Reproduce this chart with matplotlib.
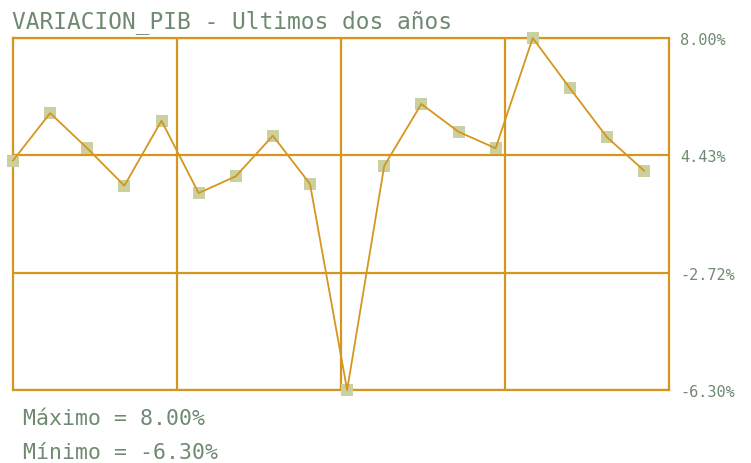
import numpy as np
import matplotlib.pyplot as plt

# variacion del PIB (%), 18 periodos
valores = [3.02, 4.95, 3.52, 2.00, 4.64, 1.70, 2.38, 4.03, 2.07, -6.30,
           2.81, 5.32, 4.19, 3.52, 8.00, 5.96, 3.97, 2.61]
etiquetas_y = ["-6.30%", "-2.72%", "4.43%", "8.00%"]
titulo = "VARIACION_PIB - Ultimos dos años"

oro = "#D4961E"
texto = "#6E8A70"
marca = "#CBD0A0"

vmax = max(valores)
vmin = min(valores)
x = np.arange(len(valores))
xmax = 17.67

fig = plt.figure(figsize=(7.51, 4.64), dpi=100)
ax = fig.add_axes([13/751, 73/464, 656/751, 352/464])
ax.patch.set_visible(False)

ax.plot(x, valores, color=oro, lw=1.3, zorder=4, clip_on=False)
ax.scatter(x, valores, marker="s", s=85, color=marca, zorder=3, linewidths=0,
           clip_on=False)

ax.set_xlim(0, xmax)
ax.set_ylim(vmin, vmax)
ax.set_xticks([xmax/4, xmax/2, 3*xmax/4])
ax.set_xticklabels([])
ax.set_yticks(np.linspace(vmin, vmax, 4))
ax.set_yticklabels(etiquetas_y)
ax.yaxis.tick_right()
ax.tick_params(length=0, pad=8, labelsize=11, labelcolor=texto)
for t in ax.get_yticklabels():
    t.set_family("DejaVu Sans Mono")
ax.grid(True, color=oro, lw=1.6, zorder=1)
ax.set_axisbelow(True)
for s in ax.spines.values():
    s.set_color(oro)
    s.set_linewidth(1.6)
    s.set_zorder(2)

fig.text(12/751, 1 - 28/464, titulo, family="DejaVu Sans Mono", fontsize=16.5,
         color=texto, va="baseline", zorder=10)
fig.text(23/751, 1 - 425/464, "Máximo = %.2f%%" % vmax, family="DejaVu Sans Mono",
         fontsize=15.5, color=texto, va="baseline")
fig.text(23/751, 1 - 459/464, "Mínimo = %.2f%%" % vmin, family="DejaVu Sans Mono",
         fontsize=15.5, color=texto, va="baseline")

fig.savefig("out.png", dpi=100)
